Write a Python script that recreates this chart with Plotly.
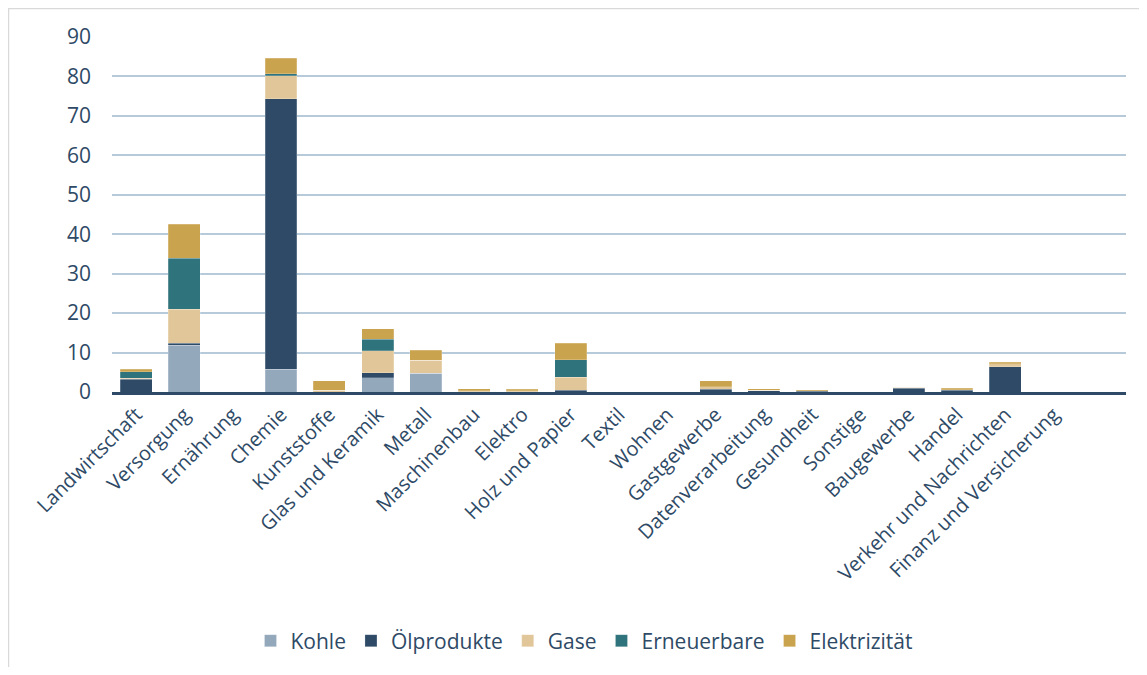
import plotly.graph_objects as go

categories = ["Landwirtschaft", "Versorgung", "Ernährung", "Chemie", "Kunststoffe",
              "Glas und Keramik", "Metall", "Maschinenbau", "Elektro", "Holz und Papier",
              "Textil", "Wohnen", "Gastgewerbe", "Datenverarbeitung", "Gesundheit",
              "Sonstige", "Baugewerbe", "Handel", "Verkehr und Nachrichten",
              "Finanz und Versicherung"]

kohle        = [0.0, 11.8, 0, 5.8, 0.0, 3.6, 4.7, 0.0, 0.0, 0.0, 0, 0, 0.0, 0.0, 0.0, 0, 0.0, 0.0, 0.0, 0]
oelprodukte  = [3.2, 0.6, 0, 68.5, 0.0, 1.3, 0.0, 0.1, 0.1, 0.5, 0, 0, 0.7, 0.3, 0.2, 0, 1.0, 0.5, 6.4, 0]
gase         = [0.3, 8.6, 0, 5.9, 0.5, 5.5, 3.4, 0.2, 0.2, 3.3, 0, 0, 0.6, 0.1, 0.1, 0, 0.2, 0.1, 0.7, 0]
erneuerbare  = [1.6, 12.9, 0, 0.5, 0.0, 3.0, 0.0, 0.0, 0.0, 4.4, 0, 0, 0.0, 0.0, 0.0, 0, 0.0, 0.0, 0.0, 0]
elektrizitaet= [0.7, 8.6, 0, 3.9, 2.3, 2.6, 2.5, 0.5, 0.4, 4.2, 0, 0, 1.5, 0.4, 0.3, 0, 0.0, 0.4, 0.5, 0]

series = [
    ("Kohle", kohle, "#94A8BC"),
    ("Ölprodukte", oelprodukte, "#2E4A66"),
    ("Gase", gase, "#E1C699"),
    ("Erneuerbare", erneuerbare, "#2F737C"),
    ("Elektrizität", elektrizitaet, "#C9A34D"),
]

y_ticks = [0, 10, 20, 30, 40, 50, 60, 70, 80, 90]

text_color = "#2E4A66"
font_family = "Open Sans, Noto Sans, sans-serif"

fig = go.Figure()
for name, vals, color in series:
    fig.add_trace(go.Bar(
        name=name, x=categories, y=vals,
        marker=dict(color=color, line=dict(color="rgba(255,255,255,0.35)", width=0.6)),
    ))

# page has an 8px body margin; figure sized to fit inside the window
W, H = 1131, 659
L, T = 104, 29
PW, PH = 1014, 355
R = W - L - PW
B = H - T - PH

def px_to_paper_x(px):
    return (px - L) / PW

def px_to_paper_y(py):
    return (H - B - py) / PH

fig.update_layout(
    barmode="stack",
    bargap=0.34,
    width=W, height=H,
    margin=dict(l=L, r=R, t=T, b=B, autoexpand=False),
    plot_bgcolor="white",
    paper_bgcolor="white",
    font=dict(family=font_family, color=text_color, size=20),
    xaxis=dict(
        tickangle=-45,
        showline=True, linecolor="#2E4A66", linewidth=3,
        showgrid=False, ticks="",
        tickfont=dict(size=20, color=text_color),
        range=[-0.5, 20.5],
        automargin=False,
    ),
    yaxis=dict(
        range=[0, 90],
        tickvals=y_ticks,
        showgrid=True, gridcolor="#B7CADA", gridwidth=2,
        zeroline=False, showline=False, ticks="",
        tickfont=dict(size=21, color=text_color),
        ticklabelstandoff=20,
        automargin=False,
    ),
    legend=dict(
        orientation="h", x=px_to_paper_x(576), xanchor="center",
        y=px_to_paper_y(633), yanchor="middle",
        font=dict(size=21, color=text_color),
        itemwidth=30,
        traceorder="normal",
    ),
    shapes=[dict(
        type="rect", xref="paper", yref="paper",
        x0=px_to_paper_x(0.5), x1=px_to_paper_x(1300),
        y0=px_to_paper_y(900), y1=px_to_paper_y(0.5),
        line=dict(color="#D9D9D9", width=1.5), fillcolor="rgba(0,0,0,0)",
        layer="below",
    )],
)

fig.write_html("out.html")
